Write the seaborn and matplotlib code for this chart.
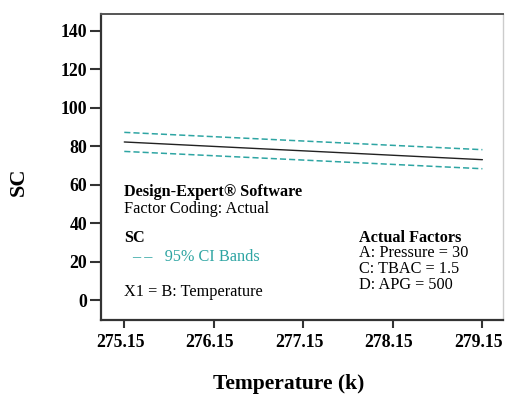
import matplotlib
matplotlib.use("Agg")
import matplotlib.pyplot as plt
import matplotlib.transforms as mtransforms
import seaborn as sns
import pandas as pd

# Predicted SC versus temperature with 95% confidence bands
temperature = [275.15, 279.15]
sc_pred = [82.3, 73.1]
ci_upper = [87.3, 78.3]
ci_lower = [77.4, 68.4]
x_ticks = [275.15, 276.15, 277.15, 278.15, 279.15]
y_ticks = [0, 20, 40, 60, 80, 100, 120, 140]

sns.set_style("white")
plt.rcParams["font.family"] = ["Liberation Serif", "DejaVu Serif"]
plt.rcParams["text.color"] = "black"
plt.rcParams["axes.labelcolor"] = "black"

df = pd.DataFrame({"Temperature": temperature, "SC": sc_pred,
                   "upper": ci_upper, "lower": ci_lower})

teal = "#2ea5a3"
fig = plt.figure(figsize=(5.05, 3.94), dpi=100)
ax = fig.add_axes([101 / 505, 1 - 320 / 394, 402 / 505, 306 / 394])

sns.lineplot(data=df, x="Temperature", y="SC", ax=ax, color="#222222", lw=1.0)
sns.lineplot(data=df, x="Temperature", y="upper", ax=ax, color=teal, lw=1.1,
             linestyle=(0, (4, 2)))
sns.lineplot(data=df, x="Temperature", y="lower", ax=ax, color=teal, lw=1.1,
             linestyle=(0, (4, 2)))

ax.set_xlim(274.89, 279.38)
ax.set_ylim(-10.2, 148.8)
ax.set_xticks(x_ticks)
ax.set_xticklabels([f"{t:.2f}" for t in x_ticks])
ax.set_yticks(y_ticks)
ax.tick_params(axis="both", direction="out", length=6, width=1.5,
               bottom=True, left=True, top=False, right=False,
               colors="#333333", labelcolor="black", labelsize=12.8, pad=4)
ax.tick_params(axis="y", length=8, pad=2)
shift = mtransforms.ScaledTranslation(-4 / 100, 0, fig.dpi_scale_trans)
for lab in ax.get_xticklabels():
    lab.set_fontweight("bold")
    lab.set_transform(lab.get_transform() + shift)
for lab in ax.get_yticklabels():
    lab.set_fontweight("bold")

for side in ["left", "bottom"]:
    ax.spines[side].set_color("#333333")
    ax.spines[side].set_linewidth(1.6)
ax.spines["top"].set_color("#555555")
ax.spines["top"].set_linewidth(1.4)
ax.spines["right"].set_color("#cccccc")
ax.spines["right"].set_linewidth(1.0)

ax.set_xlabel("Temperature (k)", fontsize=15.5, fontweight="bold")
ax.set_ylabel("SC", fontsize=16, fontweight="bold")
ax.xaxis.set_label_coords(0.468, -0.175)
ax.yaxis.set_label_coords(-0.18, 0.451)

fs = 11.7
ax.text(0.057, 0.418, "Design-Expert® Software", transform=ax.transAxes,
        fontsize=fs, fontweight="bold", va="center")
ax.text(0.057, 0.362, "Factor Coding: Actual", transform=ax.transAxes,
        fontsize=fs, va="center")
ax.text(0.057, 0.268, "SC", transform=ax.transAxes,
        fontsize=fs, fontweight="bold", va="center")
ax.text(0.078, 0.206, "– –   95% CI Bands", transform=ax.transAxes,
        fontsize=fs, color=teal, va="center")
ax.text(0.057, 0.092, "X1 = B: Temperature", transform=ax.transAxes,
        fontsize=fs, va="center")
ax.text(0.643, 0.268, "Actual Factors", transform=ax.transAxes,
        fontsize=fs, fontweight="bold", va="center")
ax.text(0.643, 0.218, "A: Pressure = 30", transform=ax.transAxes,
        fontsize=fs, va="center")
ax.text(0.643, 0.168, "C: TBAC = 1.5", transform=ax.transAxes,
        fontsize=fs, va="center")
ax.text(0.643, 0.116, "D: APG = 500", transform=ax.transAxes,
        fontsize=fs, va="center")

fig.savefig("out.png", dpi=100)
